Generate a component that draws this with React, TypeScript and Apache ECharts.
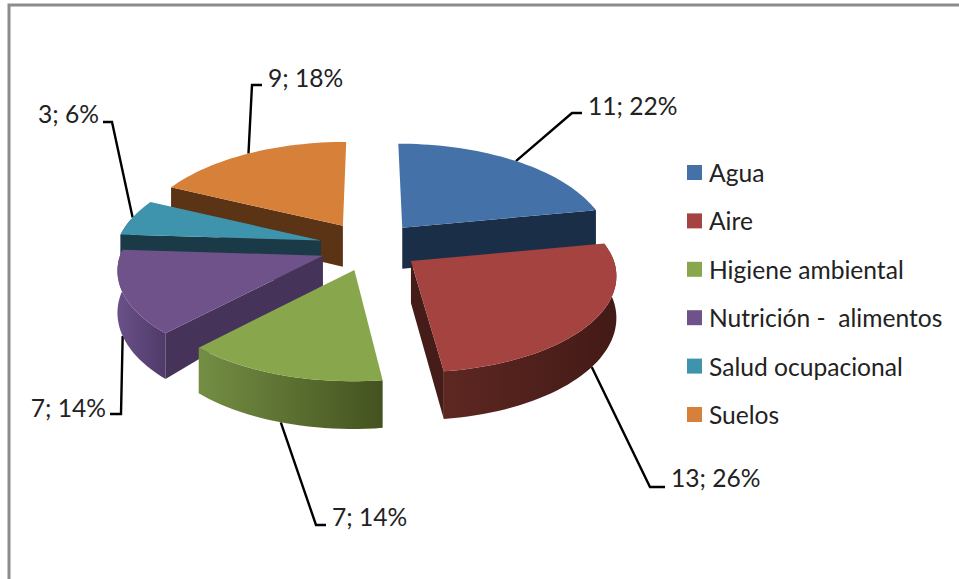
import React, { useEffect, useRef } from "react";
import * as echarts from "echarts";

const categories = ["Agua", "Aire", "Higiene ambiental", "Nutrición -  alimentos", "Salud ocupacional", "Suelos"];
const values = [11, 13, 7, 7, 3, 9];
const topColors = ["#4472A8", "#A54340", "#88A64C", "#6F5289", "#3F94AD", "#D78039"];
const wallColors = ["#1A2E47", "#451C18", "#56682C", "#45335A", "#193A46", "#5A3415"];
const rimLeft = ["#2A4A70", "#5E2722", "#748E44", "#6A5088", "#28586A", "#8A5020"];
const rimRight = ["#1A2E47", "#431A16", "#44521F", "#4F3A69", "#193A46", "#5A3415"];
const drawOrder = [2, 6, 5, 4, 3, 1]; // back to front: Suelos, Agua, Salud, Nutrición, Higiene, Aire
const apexWall = [41, 42, 41, 30, 41, 41];
const leaderElbow = [[572, 113], [650, 487], [316, 525], [121, 414], [112, 122], [252, 85]];
const leaderEnd = [582, 665, 326, 110, 103, 262];
const labelCy = [105, 477, 516, 407, 113, 77];

const FONT = "Lato, 'Open Sans', sans-serif";
const TEXT = "#222222";
const CX = 370, CY = 246.6, EX = 50.6, EY = 24.6;
const RX = 203, RY = 95.7, K = 0.14, H = 41;
const total = values.reduce((a, b) => a + b, 0);

function rimPoint(ax: number, ay: number, deg: number) {
  const t = (deg * Math.PI) / 180;
  const u = Math.sin(t), v = -Math.cos(t);
  const w = 1 / (1 - K * v);
  const shift = (ax - CX) * (w - 1) * (w > 1 ? 0.5 : 1);
  return { x: ax + RX * u * w + shift, y: ay + RY * v * w, h: H * w, v };
}

function sliceItem(i: number) {
  const before = values.slice(0, i).reduce((a, b) => a + b, 0);
  const a0 = (before / total) * 360;
  const a1 = ((before + values[i]) / total) * 360;
  const mid = ((a0 + a1) / 2) * (Math.PI / 180);
  const ax = CX + EX * Math.sin(mid);
  const ay = CY - EY * Math.cos(mid);
  const steps = Math.max(8, Math.round((a1 - a0) / 2));
  const rim: { x: number; y: number; h: number; v: number }[] = [];
  for (let s = 0; s <= steps; s++) rim.push(rimPoint(ax, ay, a0 + ((a1 - a0) * s) / steps));
  const first = rim[0], last = rim[rim.length - 1];
  const apexH = apexWall[i];
  const m = rimPoint(ax, ay, (a0 + a1) / 2);
  // a cut face shows only where going straight down from its edge leaves the top face
  const faces = [first, last].filter((p) => {
    const dx = p.x - ax, dy = p.y - ay;
    const inner = dx * (m.y - ay) - dy * (m.x - ax);
    return inner * dx < 0 && Math.abs(dx) > 10;
  });
  const radial = (p: typeof first) => ({
    type: "polygon", silent: true,
    shape: { points: [[ax, ay], [p.x, p.y], [p.x, p.y + p.h], [ax, ay + apexH]] },
    style: { fill: wallColors[i] },
  });
  // the outer wall faces the viewer only on the near part of the rim
  const nearRim = rim.filter((p) => p.v > -0.25);
  const rimPts = nearRim.map((p) => [p.x, p.y]).concat(nearRim.slice().reverse().map((p) => [p.x, p.y + p.h]));
  const top = [[ax, ay], ...rim.map((p) => [p.x, p.y])];
  const start = [m.x, m.v > 0 ? m.y + m.h : m.y];
  const elbow = leaderElbow[i], endX = leaderEnd[i];
  const leftSide = endX < elbow[0];
  const rimFace = nearRim.length > 1
    ? [{
        type: "polygon", silent: true, shape: { points: rimPts },
        style: { fill: { type: "linear", x: 0, y: 0, x2: 1, y2: 0, colorStops: [{ offset: 0, color: rimLeft[i] }, { offset: 1, color: rimRight[i] }] } },
      }]
    : [];
  return {
    type: "group",
    children: [
      { type: "polyline", silent: true, shape: { points: [start, elbow, [endX, elbow[1]]] }, style: { stroke: "#000", lineWidth: 2.4, fill: "none" } },
      ...rimFace,
      ...faces.map(radial),
      { type: "polygon", silent: true, shape: { points: top }, style: { fill: topColors[i] } },
      {
        type: "text", silent: true,
        style: {
          text: `${values[i]}; ${Math.round((values[i] / total) * 100)}%`,
          x: leftSide ? endX - 4 : endX + 6, y: labelCy[i],
          textAlign: leftSide ? "right" : "left", textVerticalAlign: "middle",
          fontFamily: FONT, fontSize: 24.6, fill: TEXT,
        },
      },
    ],
  };
}

export default function App() {
  const ref = useRef<HTMLDivElement>(null);
  useEffect(() => {
    const chart = echarts.init(ref.current!, undefined, { renderer: "svg" });
    chart.setOption({
      animation: false,
      backgroundColor: "#ffffff",
      legend: {
        orient: "vertical", left: 687, top: 160, padding: 0, icon: "rect", itemWidth: 15, itemHeight: 15,
        itemGap: 23.4, selectedMode: false, data: categories,
        textStyle: { fontFamily: FONT, fontSize: 24.6, color: TEXT, lineHeight: 24, padding: [0, 0, 0, 2] },
      },
      graphic: [{ type: "rect", silent: true, shape: { x: 9, y: 5, width: 1100, height: 800 }, style: { fill: "none", stroke: "#8C8C8C", lineWidth: 3 } }],
      series: categories.map((name, i) => ({
        type: "custom", name, coordinateSystem: "none", z: 2 + drawOrder[i],
        itemStyle: { color: topColors[i] },
        data: [values[i]],
        renderItem: () => sliceItem(i),
      })),
    });
    return () => chart.dispose();
  }, []);
  return <div ref={ref} style={{ position: "fixed", left: 0, top: 0, width: 959, height: 579 }} />;
}
